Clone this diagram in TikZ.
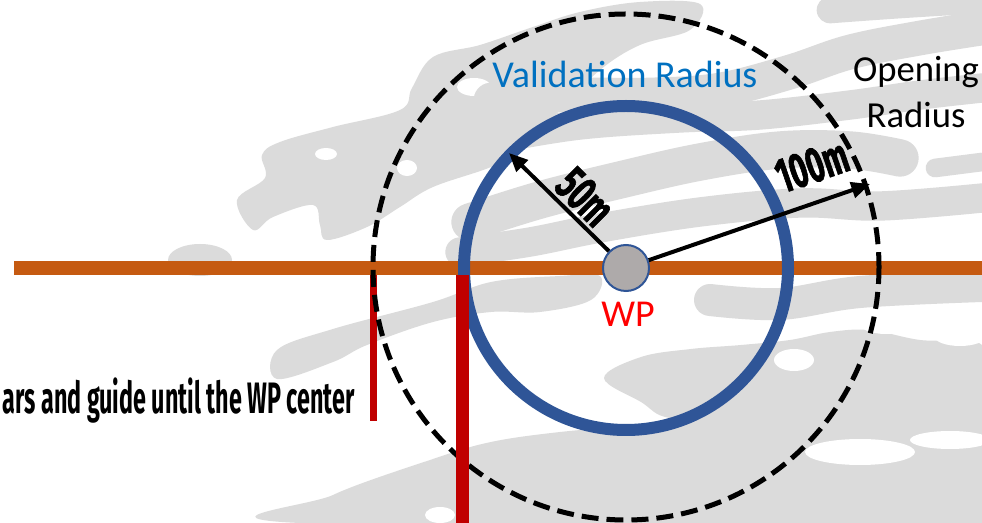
\documentclass[tikz,border=0pt]{standalone}
\usepackage{fontspec}
\setmainfont{Carlito}
\newfontfamily\condfont[FakeStretch=0.6,FakeBold=1.2]{Fira Sans}
\newfontfamily\narrowfont[FakeStretch=0.53]{Fira Sans}
\usetikzlibrary{arrows.meta}
\definecolor{roadorange}{HTML}{C55A11}
\definecolor{ringblue}{HTML}{2F5597}
\definecolor{barred}{HTML}{C00000}
\definecolor{wpfill}{HTML}{AEAAAA}
\definecolor{valblue}{HTML}{0070C0}
\definecolor{camo}{HTML}{DBDBDB}
\tikzset{
  band/.style={draw=camo, line cap=round, line join=round, line width=#1},
  blob/.style={fill=camo},
  road/.style={draw=roadorange, line width=10.5pt},
  thinbar/.style={draw=barred, line width=5.25pt},
  thickbar/.style={draw=barred, line width=9.75pt},
  valring/.style={draw=ringblue, line width=9pt},
  openring/.style={draw=black, line width=3.75pt, dash pattern=on 12.75pt off 6pt},
  radarrow/.style={draw=black, line width=3pt, -{Triangle[length=14pt,width=12pt]}},
  wpnode/.style={circle, fill=wpfill, draw=ringblue, line width=1.5pt, minimum size=34.5pt, inner sep=0pt},
  distlabel/.style={font=\condfont\bfseries\fontsize{37}{38}\selectfont, inner sep=0pt},
}
\begin{document}
\begin{tikzpicture}[x=0.75pt,y=-0.75pt]
\useasboundingbox (0,0) rectangle (982,523);
\fill[white] (0,0) rectangle (982,523);
% ---- background camouflage ----
\fill[blob] plot[smooth cycle, tension=0.6] coordinates {(237,200)(265,178)(262,155)(280,142)(333,127)(400,110)(412,88)(433,57)(480,45)(530,28)(580,12)(640,2)(700,4)(690,30)(640,45)(600,70)(560,110)(520,150)(491,167)(433,187)(400,207)(367,227)(327,240)(320,225)(313,205)(273,217)(253,230)};
\fill[white] (326,154) ellipse [x radius=11, y radius=6];
\fill[white] (407,168) ellipse [x radius=10, y radius=8];
\fill[white] (474,87) ellipse [x radius=17, y radius=9];
\fill[blob] (200,260) ellipse [x radius=32, y radius=16];
\draw[band=26pt] plot[smooth, tension=0.6] coordinates {(491,100)(560,95)(650,95)(720,90)(790,72)(850,52)(920,38)(982,28)};
\draw[band=22pt] plot[smooth, tension=0.6] coordinates {(500,138)(580,125)(680,118)(760,115)(850,105)(920,95)(982,88)};
\draw[band=28pt] plot[smooth, tension=0.6] coordinates {(470,222)(540,200)(620,180)(700,162)(780,150)(850,150)(900,158)};
\draw[band=22pt] plot[smooth, tension=0.6] coordinates {(460,252)(530,242)(600,228)(700,212)(800,203)(880,206)(982,198)};
\draw[band=14pt] plot[smooth, tension=0.6] coordinates {(935,168)(982,162)};
\draw[band=20pt] plot[smooth, tension=0.6] coordinates {(830,10)(900,5)(982,0)};
\fill[blob] plot[smooth cycle, tension=0.6] coordinates {(277,350)(333,329)(433,302)(491,282)(560,276)(600,276)(591,300)(540,312)(491,312)(433,322)(367,345)(333,362)(277,379)};
\fill[blob] plot[smooth cycle, tension=0.6] coordinates {(300,523)(333,495)(433,459)(491,442)(560,432)(640,425)(720,415)(800,405)(900,395)(982,382)(982,523)};
\fill[white] (440,515) ellipse [x radius=15, y radius=8];
\draw[band=24pt] plot[smooth, tension=0.6] coordinates {(710,300)(780,304)(860,292)(982,286)};
\fill[blob] plot[smooth cycle, tension=0.6] coordinates {(604,378)(641,357)(691,349)(741,345)(790,340)(830,332)(870,330)(920,340)(982,345)(982,395)(900,405)(800,412)(740,418)(670,418)(641,402)};
\fill[white] (794,360) ellipse [x radius=20, y radius=11];
\fill[white] (886,322) ellipse [x radius=28, y radius=12];
\fill[white] (960,336) ellipse [x radius=26, y radius=10];
\fill[white] (860,452) ellipse [x radius=55, y radius=13];
\fill[white] (950,440) ellipse [x radius=40, y radius=9];
% ---- main figure ----
\coordinate (ctr) at (626,268);
\draw[road] (14,268) -- (982,268);
\draw[thinbar] (373,275) -- (373,421);
\draw[valring] (ctr) circle [radius=162];
\draw[openring] (626,267) circle [radius=253];
\draw[thickbar] (462,275) -- (462,523);
\coordinate (tip50) at (509,153);
\coordinate (tip100) at (870,184);
\node[wpnode] (wp) at (ctr) {};
\draw[radarrow] (wp) -- (tip50);
\draw[radarrow] (wp) -- (tip100);
\node[distlabel, rotate=-45] (l50) at (585,197) {50m};
\node[distlabel, rotate=19] (l100) at (812,166) {100m};
\node[anchor=base, text=red, font=\fontsize{28.5}{30}\selectfont, inner sep=0pt] (wplabel) at (628,327) {WP};
\node[anchor=base, text=valblue, font=\fontsize{28.5}{30}\selectfont, inner sep=0pt] (vallabel) at (625,88) {Validation Radius};
\node[anchor=base, align=center, font=\fontsize{27.5}{34.5}\selectfont, inner sep=0pt] (openlabel) at (916,128) {Opening\\Radius};
\node[anchor=base east, font=\narrowfont\bfseries\fontsize{33}{36}\selectfont, inner sep=0pt] (guide) at (355,414) {ars and guide until the WP center};
\end{tikzpicture}
\end{document}
